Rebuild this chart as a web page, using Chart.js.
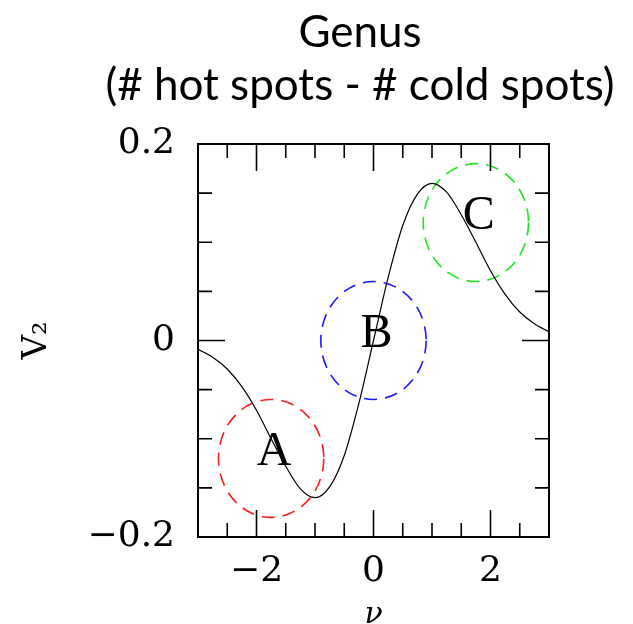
<!DOCTYPE html>
<html>
<head>
<meta charset="utf-8">
<script src="https://cdn.jsdelivr.net/npm/chart.js@4"></script>
<style>
  html, body { margin: 0; padding: 0; background: #fff; }
  #wrap { width: 633px; height: 624px; position: relative; }
</style>
</head>
<body>
<div id="wrap"><canvas id="genusChart"></canvas></div>
<script>
// genus curve
const nu = [-3, -2.75, -2.5, -2.25, -2, -1.75, -1.5, -1.25, -1, -0.75, -0.5, -0.25, 0,
  0.25, 0.5, 0.75, 1, 1.25, 1.5, 1.75, 2, 2.25, 2.5, 2.75, 3];
const v2 = [-0.009, -0.017, -0.029, -0.047, -0.071, -0.100, -0.128, -0.151, -0.160, -0.149, -0.117, -0.064, 0,
  0.064, 0.117, 0.149, 0.160, 0.151, 0.128, 0.100, 0.071, 0.047, 0.029, 0.017, 0.009];

// marked regions
const spotNames = ['A', 'B', 'C'];
const spotNu = [-1.75, 0, 1.75];
const spotV2 = [-0.12, 0, 0.12];

// ticks
const xTicks = [-2, 0, 2];
const yTicks = [-0.2, 0, 0.2];
const xMinorTicks = [-2.5, -2, -1.5, -1, -0.5, 0, 0.5, 1, 1.5, 2, 2.5];
const yMinorTicks = [-0.15, -0.1, -0.05, 0, 0.05, 0.1, 0.15];

const titleLines = ['Genus', '(# hot spots - # cold spots)'];

const SPOT_COLORS = ['#ff1a1a', '#1a1aff', '#1ee61e'];
const SPOT_RX = 0.9;
const SPOT_RY = 0.06;
const SERIF = '"DejaVu Serif", serif';

const tickLabel = (v) => (v < 0 ? '\u2212' + Math.abs(v) : String(v));

const spotCircles = {
  id: 'spotCircles',
  beforeDatasetsDraw(chart) {
    const { ctx, scales: { x, y } } = chart;
    ctx.save();
    ctx.lineWidth = 1.6;
    ctx.setLineDash([13, 8]);
    spotNames.forEach((name, i) => {
      const cx = x.getPixelForValue(spotNu[i]);
      const cy = y.getPixelForValue(spotV2[i]);
      const rx = x.getPixelForValue(spotNu[i] + SPOT_RX) - cx;
      const ry = cy - y.getPixelForValue(spotV2[i] + SPOT_RY);
      ctx.strokeStyle = SPOT_COLORS[i];
      ctx.beginPath();
      ctx.ellipse(cx, cy, rx, ry, 0, 0, Math.PI * 2);
      ctx.stroke();
    });
    ctx.setLineDash([]);
    ctx.fillStyle = '#000';
    ctx.font = '48px "Liberation Serif", serif';
    ctx.textAlign = 'center';
    ctx.textBaseline = 'middle';
    spotNames.forEach((name, i) => {
      const cx = x.getPixelForValue(spotNu[i]);
      const cy = y.getPixelForValue(spotV2[i]);
      ctx.fillText(name, cx + 3, cy - 6);
    });
    ctx.restore();
  },
};

// inward ticks on all four sides plus the box
const frameTicks = {
  id: 'frameTicks',
  afterDatasetsDraw(chart) {
    const { ctx, chartArea: a, scales: { x, y } } = chart;
    ctx.save();
    ctx.strokeStyle = '#000';
    ctx.lineWidth = 1.6;
    ctx.beginPath();
    xMinorTicks.forEach((v) => {
      const px = x.getPixelForValue(v);
      const len = xTicks.includes(v) ? 27 : 14;
      ctx.moveTo(px, a.bottom);
      ctx.lineTo(px, a.bottom - len);
      ctx.moveTo(px, a.top);
      ctx.lineTo(px, a.top + len);
    });
    yMinorTicks.forEach((v) => {
      const py = y.getPixelForValue(v);
      const len = yTicks.includes(v) ? 27 : 14;
      ctx.moveTo(a.left, py);
      ctx.lineTo(a.left + len, py);
      ctx.moveTo(a.right, py);
      ctx.lineTo(a.right - len, py);
    });
    ctx.stroke();
    ctx.lineWidth = 2;
    ctx.strokeRect(a.left, a.top, a.right - a.left, a.bottom - a.top);
    ctx.restore();
  },
};

const headline = {
  id: 'headline',
  afterDraw(chart) {
    const ctx = chart.ctx;
    ctx.save();
    ctx.fillStyle = '#000';
    ctx.font = '44px Lato, sans-serif';
    ctx.textAlign = 'center';
    ctx.textBaseline = 'alphabetic';
    ctx.fillText(titleLines[0], 360, 47);
    ctx.fillText(titleLines[1], 360, 100);
    ctx.restore();
  },
};

new Chart(document.getElementById('genusChart'), {
  type: 'scatter',
  data: {
    datasets: [
      {
        data: nu.map((v, i) => ({ x: v, y: v2[i] })),
        showLine: true,
        borderColor: '#000',
        borderWidth: 1.2,
        pointRadius: 0,
        cubicInterpolationMode: 'monotone',
      },
    ],
  },
  options: {
    responsive: true,
    maintainAspectRatio: false,
    animation: false,
    layout: { padding: { top: 144, right: 84, bottom: 0, left: 20 } },
    plugins: {
      legend: { display: false },
      tooltip: { enabled: false },
      title: { display: false },
    },
    scales: {
      x: {
        type: 'linear',
        min: -3,
        max: 3,
        grid: { display: false },
        border: { display: false },
        afterBuildTicks: (scale) => {
          scale.ticks = xTicks.map((value) => ({ value }));
        },
        afterFit: (scale) => {
          scale.height = 87;
        },
        ticks: {
          color: '#000',
          padding: 5,
          maxRotation: 0,
          autoSkip: false,
          font: { family: SERIF, size: 36 },
          callback: tickLabel,
        },
        title: {
          display: true,
          text: '\u03bd',
          color: '#000',
          padding: { top: 0, bottom: -6 },
          font: { family: SERIF, size: 30, style: 'italic', lineHeight: 1 },
        },
      },
      y: {
        type: 'linear',
        min: -0.2,
        max: 0.2,
        grid: { display: false },
        border: { display: false },
        afterBuildTicks: (scale) => {
          scale.ticks = yTicks.map((value) => ({ value }));
        },
        afterFit: (scale) => {
          scale.width = 178;
        },
        ticks: {
          color: '#000',
          padding: 15,
          autoSkip: false,
          font: { family: SERIF, size: 36 },
          callback: tickLabel,
        },
        title: {
          display: true,
          text: 'V\u2082',
          color: '#000',
          padding: 0,
          font: { family: SERIF, size: 34, lineHeight: 1 },
        },
      },
    },
  },
  plugins: [spotCircles, frameTicks, headline],
});
</script>
</body>
</html>
